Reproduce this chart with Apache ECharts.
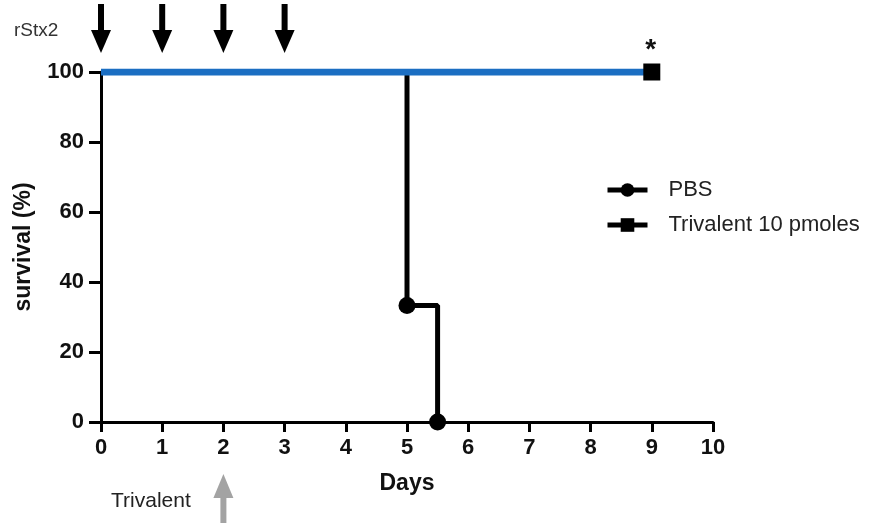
<!DOCTYPE html>
<html>
<head>
<meta charset="utf-8">
<script src="https://cdn.jsdelivr.net/npm/echarts@6/dist/echarts.min.js"></script>
<style>
  html, body { margin: 0; padding: 0; background: #fff; }
  #chart { width: 877px; height: 523px; }
</style>
</head>
<body>
<div id="chart"></div>
<script>
// survival data
const pbsData = [[0, 100], [5, 33.3], [5.5, 0]];
const trivalentData = [[0, 100], [9, 100]];
const dayTicks = [0, 1, 2, 3, 4, 5, 6, 7, 8, 9, 10];
const toxinDays = [0, 1, 2, 3];     // rStx2 injections
const treatmentDays = [2];          // Trivalent given
const starDays = [9];

const font = 'Arial, "Liberation Sans", sans-serif';
const chart = echarts.init(document.getElementById('chart'));

const options = {
  animation: false,
  grid: { left: 101, right: 164, top: 72, bottom: 101 },
  xAxis: {
    type: 'value', min: 0, max: 10, interval: 1,
    name: 'Days', nameLocation: 'middle', nameGap: 50,
    nameTextStyle: { fontFamily: font, fontWeight: 'bold', fontSize: 23, color: '#111' },
    axisLine: { lineStyle: { color: '#000', width: 3 } },
    axisTick: { length: 10, lineStyle: { color: '#000', width: 3 } },
    axisLabel: { fontFamily: font, fontWeight: 'bold', fontSize: 22, color: '#111', margin: 15,
      formatter: v => dayTicks.includes(v) ? String(v) : '' },
    splitLine: { show: false }
  },
  yAxis: {
    type: 'value', min: 0, max: 100, interval: 20,
    name: 'survival (%)', nameLocation: 'middle', nameGap: 66,
    nameTextStyle: { fontFamily: font, fontWeight: 'bold', fontSize: 23, color: '#111' },
    axisLine: { show: true, lineStyle: { color: '#000', width: 3 } },
    axisTick: { show: true, length: 12, lineStyle: { color: '#000', width: 3 } },
    axisLabel: { fontFamily: font, fontWeight: 'bold', fontSize: 22, color: '#111', margin: 17 },
    splitLine: { show: false }
  },
  legend: {
    orient: 'vertical', left: 600, top: 174, itemGap: 13,
    itemWidth: 40, itemHeight: 17,
    textStyle: { fontFamily: font, fontSize: 22, color: '#222', padding: [0, 0, 0, 16] },
    data: [
      { name: 'PBS', lineStyle: { color: '#000', width: 5 } },
      { name: 'Trivalent 10 pmoles', lineStyle: { color: '#000', width: 5 } }
    ]
  },
  series: [
    {
      name: 'PBS', type: 'line', step: 'end',
      data: pbsData.map((d, i) => i === 0 ? { value: d, symbol: 'none' } : d),
      symbol: 'circle', symbolSize: 17,
      lineStyle: { color: '#000', width: 5 },
      itemStyle: { color: '#000' }
    },
    {
      name: 'Trivalent 10 pmoles', type: 'line',
      data: trivalentData.map((d, i) => i === 0 ? { value: d, symbol: 'none' } : d),
      symbol: 'rect', symbolSize: 17,
      lineStyle: { color: '#1b6ec2', width: 7 },
      itemStyle: { color: '#000' }
    },
    {
      // black arrows above the plot for rStx2 days
      type: 'custom', silent: true, z: 5,
      data: toxinDays.map(d => [d, 100]),
      renderItem: (params, api) => {
        const p = api.coord([api.value(0), 100]);
        const x = p[0], tip = p[1] - 19;
        return {
          type: 'group', children: [
            { type: 'rect', shape: { x: x - 3, y: tip - 49, width: 6, height: 30 }, style: { fill: '#000' } },
            { type: 'polygon', shape: { points: [[x - 10, tip - 23], [x + 10, tip - 23], [x, tip]] }, style: { fill: '#000' } }
          ]
        };
      }
    },
    {
      // grey arrow below the axis for the Trivalent dose
      type: 'custom', silent: true, z: 5,
      data: treatmentDays.map(d => [d, 0]),
      renderItem: (params, api) => {
        const p = api.coord([api.value(0), 0]);
        const x = p[0], tip = p[1] + 52;
        return {
          type: 'group', children: [
            { type: 'polygon', shape: { points: [[x - 10, tip + 24], [x + 10, tip + 24], [x, tip]] }, style: { fill: '#a3a3a3' } },
            { type: 'rect', shape: { x: x - 3, y: tip + 23, width: 6, height: 30 }, style: { fill: '#a3a3a3' } }
          ]
        };
      }
    },
    {
      type: 'custom', silent: true, z: 5,
      data: starDays.map(d => [d, 100]),
      renderItem: (params, api) => {
        const p = api.coord([api.value(0), 100]);
        return {
          type: 'text',
          style: { x: p[0] - 1, y: p[1] - 22, text: '*', fill: '#111', align: 'center', verticalAlign: 'middle',
            font: 'bold 28px ' + font }
        };
      }
    }
  ],
  graphic: [
    { type: 'text', left: 14, top: 21, style: { text: 'rStx2', fill: '#333', font: '19px ' + font } },
    { type: 'text', left: 111, top: 491, style: { text: 'Trivalent', fill: '#222', font: '21px ' + font } }
  ]
};

chart.setOption(options);
</script>
</body>
</html>
